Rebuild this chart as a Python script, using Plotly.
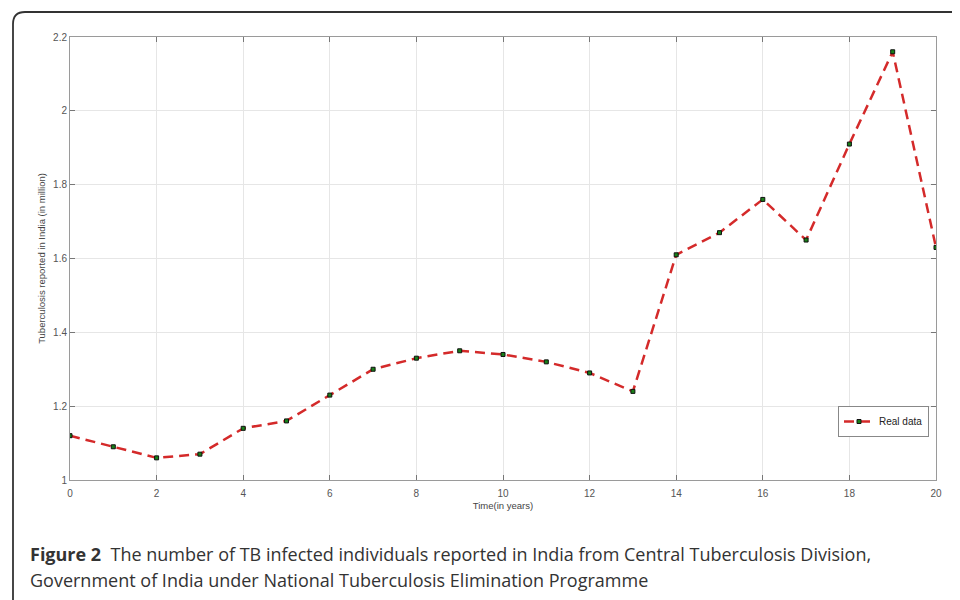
import plotly.graph_objects as go

years = list(range(0, 21))
tb_cases = [1.12, 1.09, 1.06, 1.07, 1.14, 1.16, 1.23, 1.30, 1.33, 1.35, 1.34,
            1.32, 1.29, 1.24, 1.61, 1.67, 1.76, 1.65, 1.91, 2.16, 1.63]
x_ticks = list(range(0, 21, 2))
y_ticks = [1, 1.2, 1.4, 1.6, 1.8, 2, 2.2]
y_tick_text = ["1", "1.2", "1.4", "1.6", "1.8", "2", "2.2"]
caption_lines = [
    "<b>Figure 2</b>&nbsp;&nbsp;The number of TB infected individuals reported in India from Central Tuberculosis Division,",
    "Government of India under National Tuberculosis Elimination Programme",
]

OFF = 8  # page body margin
W, H = 960, 600
L, R, T, B = 70 - OFF, 960 - (936 - OFF), 37 - OFF, 600 - (480 - OFF)
pw, ph = W - L - R, H - T - B

def px(x):
    return (x - OFF - L) / pw

def py(y):
    return (H - B - (y - OFF)) / ph

fig = go.Figure()
fig.add_trace(go.Scatter(
    x=years, y=tb_cases, mode="lines+markers", name="Real data",
    line=dict(color="#d42a2a", width=2.5, dash="10px,6px"),
    marker=dict(symbol="square", size=4, color="#188018",
                line=dict(color="#111", width=1)),
))

axis_common = dict(
    showline=True, linecolor="#9a9a9a", linewidth=1, mirror="ticks",
    ticks="inside", ticklen=5, tickcolor="#777",
    showgrid=True, gridcolor="#e6e6e6", gridwidth=1, zeroline=False,
    tickfont=dict(family="Liberation Sans, Arial", size=10, color="#555"),
)
fig.update_xaxes(range=[0, 20], tickvals=x_ticks, ticklabelstandoff=4,
                 title=dict(text="Time(in years)", standoff=4,
                            font=dict(family="Liberation Sans, Arial", size=9.5, color="#444")),
                 **axis_common)
fig.update_yaxes(range=[1, 2.2], tickvals=y_ticks, ticktext=y_tick_text,
                 title=dict(text="Tuberculosis reported in India (in million)", standoff=5,
                            font=dict(family="Liberation Sans, Arial", size=9.5, color="#444")),
                 **axis_common)

# outer rounded border (panel frame)
r = 12
path = (f"M {px(13)},{py(640)} L {px(13)},{py(12 + r)} "
        f"Q {px(13)},{py(12)} {px(13 + r)},{py(12)} L {px(990)},{py(12)}")
fig.add_shape(type="path", path=path, xref="paper", yref="paper",
              line=dict(color="#333", width=1.8), layer="above")

for txt, yc in zip(caption_lines, [554, 580]):
    fig.add_annotation(
        x=px(28), y=py(yc), xref="paper", yref="paper", xanchor="left", yanchor="middle",
        align="left", showarrow=False, text=txt,
        font=dict(family="Open Sans", size=18, color="#333"),
    )

fig.update_layout(
    width=W, height=H, margin=dict(l=L, r=R, t=T, b=B),
    plot_bgcolor="white", paper_bgcolor="white",
    showlegend=True,
    legend=dict(x=px(838), y=py(406), xanchor="left", yanchor="top",
                bgcolor="white", bordercolor="#888", borderwidth=1,
                font=dict(family="Liberation Sans, Arial", size=10, color="#222"),
                itemwidth=30, tracegroupgap=0),
)

fig.write_html("out.html")
